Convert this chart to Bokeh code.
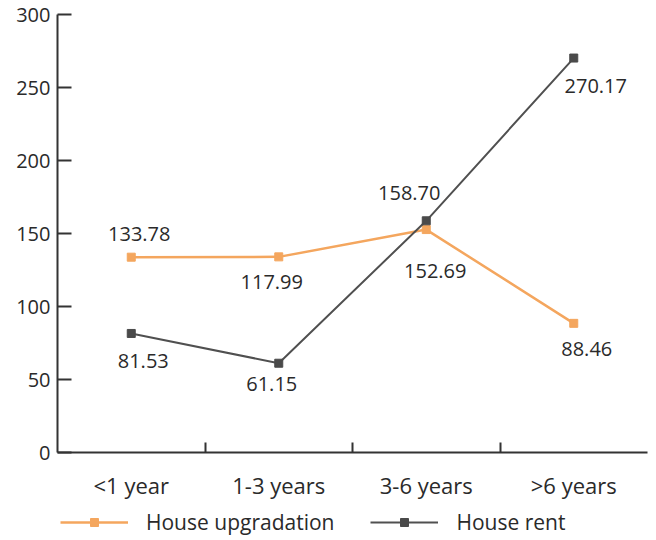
from bokeh.plotting import figure
from bokeh.layouts import column
from bokeh.models import Range1d, FixedTicker, Legend, LegendItem, ColumnDataSource
from bokeh.core.properties import value
from bokeh.embed import file_html
from bokeh.resources import INLINE

# ---- data ----
categories = ["<1 year", "1-3 years", "3-6 years", ">6 years"]
x_pos = [0.5, 1.5, 2.5, 3.5]
upgrade_values = [133.78, 134.0, 152.69, 88.46]
upgrade_labels = ["133.78", "117.99", "152.69", "88.46"]
rent_values = [81.53, 61.15, 158.70, 270.17]
rent_labels = ["81.53", "61.15", "158.70", "270.17"]
y_ticks = [0, 50, 100, 150, 200, 250, 300]

FONT = "Open Sans"
NUM_FS = "20px"
CAT_FS = "22px"
LEG_FS = "21px"
ORANGE = "#F4A65E"
GRAY = "#505050"
TXT = "#2a2a2a"
W = 648

p = figure(width=W, height=502, output_backend="svg", toolbar_location=None,
           x_range=Range1d(0, 4), y_range=Range1d(0, 300),
           min_border_left=57, min_border_right=1, min_border_top=14, min_border_bottom=50)
p.outline_line_color = None
p.grid.visible = False
p.background_fill_color = "white"
p.border_fill_color = "white"

# axes
p.xaxis.ticker = FixedTicker(ticks=x_pos, minor_ticks=[1, 2, 3])
p.xaxis.major_label_overrides = {x: c for x, c in zip(x_pos, categories)}
p.xaxis.major_tick_in = 0
p.xaxis.major_tick_out = 0
p.xaxis.minor_tick_in = 10
p.xaxis.minor_tick_out = 0
p.xaxis.major_label_standoff = 17
p.xaxis.major_label_text_font_size = CAT_FS

p.yaxis.ticker = FixedTicker(ticks=y_ticks)
p.yaxis.major_tick_in = 14
p.yaxis.major_tick_out = 0
p.yaxis.minor_tick_in = 0
p.yaxis.minor_tick_out = 0
p.yaxis.major_label_standoff = 7
p.yaxis.major_label_text_font_size = NUM_FS

for ax in (p.xaxis, p.yaxis):
    ax.axis_line_color = "#333333"
    ax.axis_line_width = 2
    ax.major_tick_line_color = "#333333"
    ax.major_tick_line_width = 2
    ax.minor_tick_line_color = "#333333"
    ax.minor_tick_line_width = 2
    ax.major_label_text_font = FONT
    ax.major_label_text_color = TXT

src_u = ColumnDataSource(dict(x=x_pos, y=upgrade_values, t=upgrade_labels))
src_r = ColumnDataSource(dict(x=x_pos, y=rent_values, t=rent_labels))


def draw_series(fig):
    lu = fig.line("x", "y", source=src_u, line_color=ORANGE, line_width=2.5)
    su = fig.scatter("x", "y", source=src_u, marker="square", size=8,
                     fill_color=ORANGE, line_color=ORANGE)
    lr = fig.line("x", "y", source=src_r, line_color=GRAY, line_width=2)
    sr = fig.scatter("x", "y", source=src_r, marker="square", size=8,
                     fill_color="#4a4a4a", line_color="#4a4a4a")
    return lu, su, lr, sr


draw_series(p)

# data labels
src_u.data["dx"] = [8, -7, 9, 13]
src_u.data["dy"] = [-23, 25, 41, 26]
src_r.data["dx"] = [12, -7, -17, 22]
src_r.data["dy"] = [28, 21, -28, 28]
for s in (src_u, src_r):
    p.text("x", "y", text="t", source=s, x_offset="dx", y_offset="dy",
           text_align="center", text_baseline="middle",
           text_font=value(FONT), text_font_size=NUM_FS, text_color=TXT)

# legend strip below the chart (series drawn out of view; only the legend shows)
lf = figure(width=W, height=38, output_backend="svg", toolbar_location=None,
            x_range=Range1d(0, 4), y_range=Range1d(-2, -1),
            x_axis_location=None, y_axis_location=None,
            min_border_left=0, min_border_right=0, min_border_top=0, min_border_bottom=0)
lf.outline_line_color = None
lf.grid.visible = False
lu2, su2, lr2, sr2 = draw_series(lf)

legend = Legend(items=[LegendItem(label="House upgradation", renderers=[lu2, su2]),
                       LegendItem(label="House rent", renderers=[lr2, sr2])],
                orientation="horizontal", location=(3, 4))
legend.glyph_width = 68
legend.glyph_height = 20
legend.label_standoff = 18
legend.spacing = 36
legend.margin = 0
legend.padding = 0
legend.border_line_color = None
legend.background_fill_alpha = 0
legend.label_text_font = FONT
legend.label_text_font_size = LEG_FS
legend.label_text_color = TXT
lf.add_layout(legend, "center")

layout = column(p, lf, spacing=0)
open("out.html", "w").write(file_html(layout, INLINE))
